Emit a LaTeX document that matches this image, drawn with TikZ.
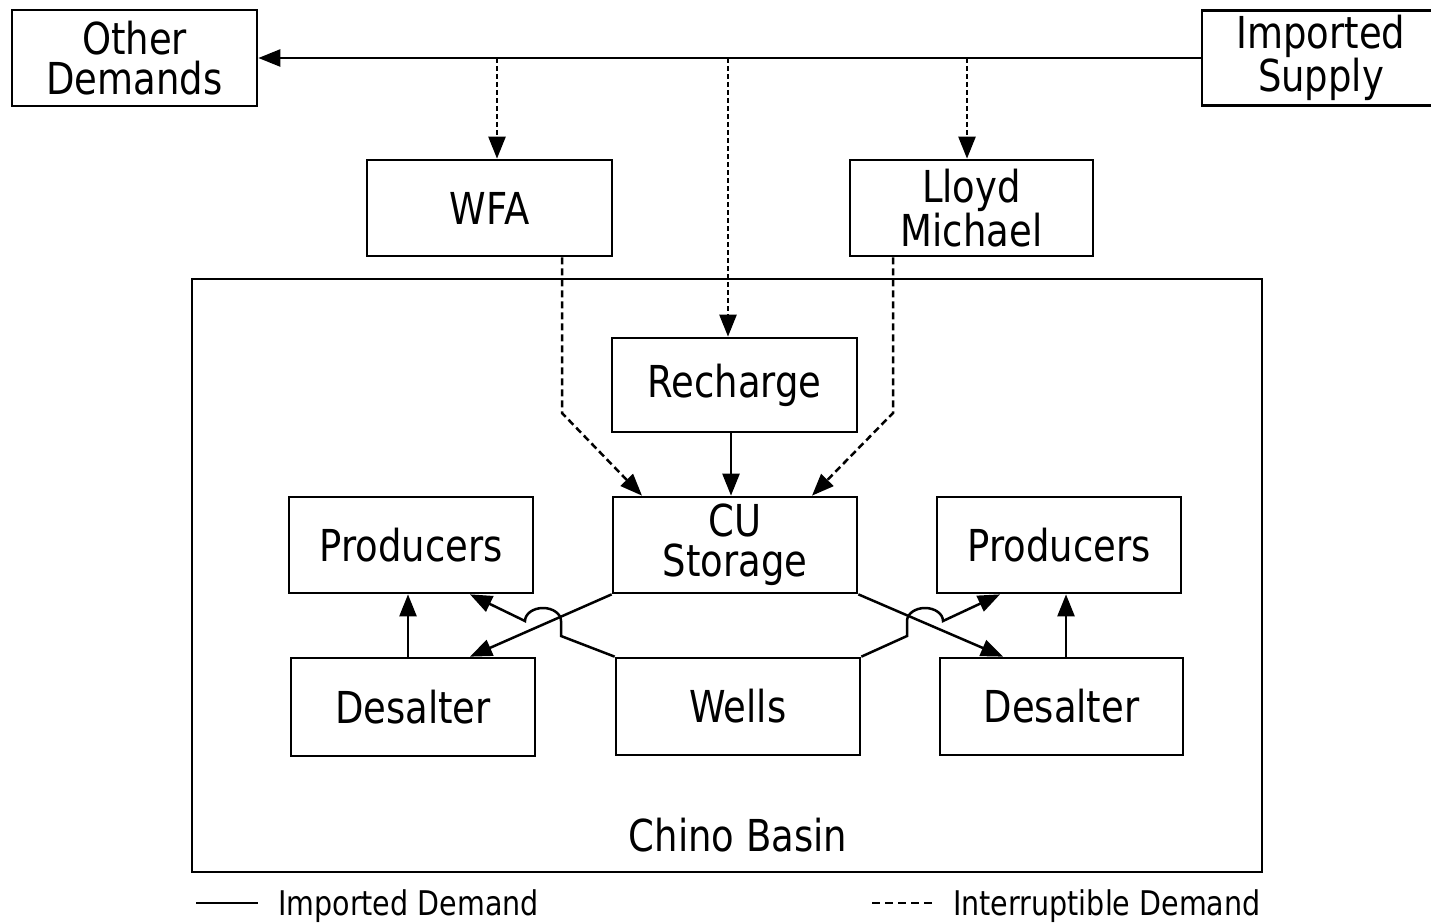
\documentclass[tikz,border=0pt]{standalone}
\usepackage{fontspec}
\newfontfamily\lab{DejaVu Sans}[FakeStretch=0.84]
\usetikzlibrary{arrows.meta}
\begin{document}
\begin{tikzpicture}[x=1pt,y=-1pt,
  box/.style={draw, line width=2.7pt, inner sep=0pt, align=center,
    font=\lab\fontsize{44}{40}\selectfont},
  flow/.style={line width=2.5pt, -{Triangle[length=22pt,width=17pt]}},
  iflow/.style={flow, dash pattern=on 7pt off 4pt},
  legtext/.style={font=\lab\fontsize{34}{38}\selectfont, inner sep=0pt}]
\useasboundingbox[fill=white] (0,0) rectangle (1431,923);

% boxes
\node[box, minimum width=245pt, minimum height=96pt] (od) at (134.5,58) {Other\\Demands};
\node[box, minimum width=238pt, minimum height=95pt] (is) at (1321,58) {Imported\\Supply};
\node[box, minimum width=245pt, minimum height=96pt] (wfa) at (489.5,208) {WFA};
\node[box, minimum width=243pt, minimum height=96pt] (lm) at (971.5,208) {Lloyd\\Michael};
\draw[line width=2.7pt] (192,279) rectangle (1262,872);
\node[box, minimum width=245pt, minimum height=94pt] (rech) at (734.5,385) {Recharge};
\node[box, minimum width=244pt, minimum height=96pt] (cu) at (735,545) {CU\\Storage};
\node[box, minimum width=244pt, minimum height=96pt] (pl) at (411,545) {Producers};
\node[box, minimum width=244pt, minimum height=96pt] (pr) at (1059,545) {Producers};
\node[box, minimum width=244pt, minimum height=98pt] (dl) at (413,707) {Desalter};
\node[box, minimum width=244pt, minimum height=97pt] (wells) at (738,706.5) {Wells};
\node[box, minimum width=243pt, minimum height=97pt] (dr) at (1061.5,706.5) {Desalter};
\node[font=\lab\fontsize{44}{40}\selectfont, inner sep=0pt] (cb) at (738,835) {Chino Basin};

% top supply line
\draw[flow] (is.west) -- (od.east);
\coordinate (t1) at (497,58);
\coordinate (t2) at (728,58);
\coordinate (t3) at (967,58);
\draw[iflow, dash pattern=on 5pt off 3pt] (t1) -- (t1 |- wfa.north);
\draw[iflow, dash pattern=on 5pt off 3pt] (t2) -- (t2 |- rech.north);
\draw[iflow, dash pattern=on 5pt off 3pt] (t3) -- (t3 |- lm.north);

% into CU storage
\draw[iflow] (562,0 |- wfa.south) -- (562,413) -- (642,0 |- cu.north);
\draw[iflow] (893,0 |- lm.south) -- (893,413) -- (812,0 |- cu.north);
\draw[flow] (731,0 |- rech.south) -- (731,0 |- cu.north);

% desalters to producers
\draw[flow] (408,0 |- dl.north) -- (408,0 |- pl.south);
\draw[flow] (1066,0 |- dr.north) -- (1066,0 |- pr.south);

% CU storage to desalters
\draw[flow] (cu.south west) -- (470,0 |- dl.north);
\draw[flow] (cu.south east) -- (1003,0 |- dr.north);

% wells to producers with hops
\draw[flow] (wells.north west) -- (561,636) -- (561,621)
  arc[start angle=0, end angle=180, x radius=18pt, y radius=13pt]
  -- (470,0 |- pl.south);
\draw[flow] (wells.north east) -- (907,636) -- (907,621)
  arc[start angle=180, end angle=0, x radius=18pt, y radius=13pt]
  -- (1000,0 |- pr.south);

% legend
\coordinate (ls1) at (196,903);
\coordinate (ls2) at (258,903);
\draw[line width=2.5pt] (ls1) -- (ls2);
\node[legtext, anchor=base west] (lt1) at (278,915) {Imported Demand};
\coordinate (ld1) at (872,903);
\coordinate (ld2) at (935,903);
\draw[line width=2.5pt, dash pattern=on 8pt off 5pt] (ld1) -- (ld2);
\node[legtext, anchor=base west] (lt2) at (953,915) {Interruptible Demand};
\end{tikzpicture}
\end{document}
